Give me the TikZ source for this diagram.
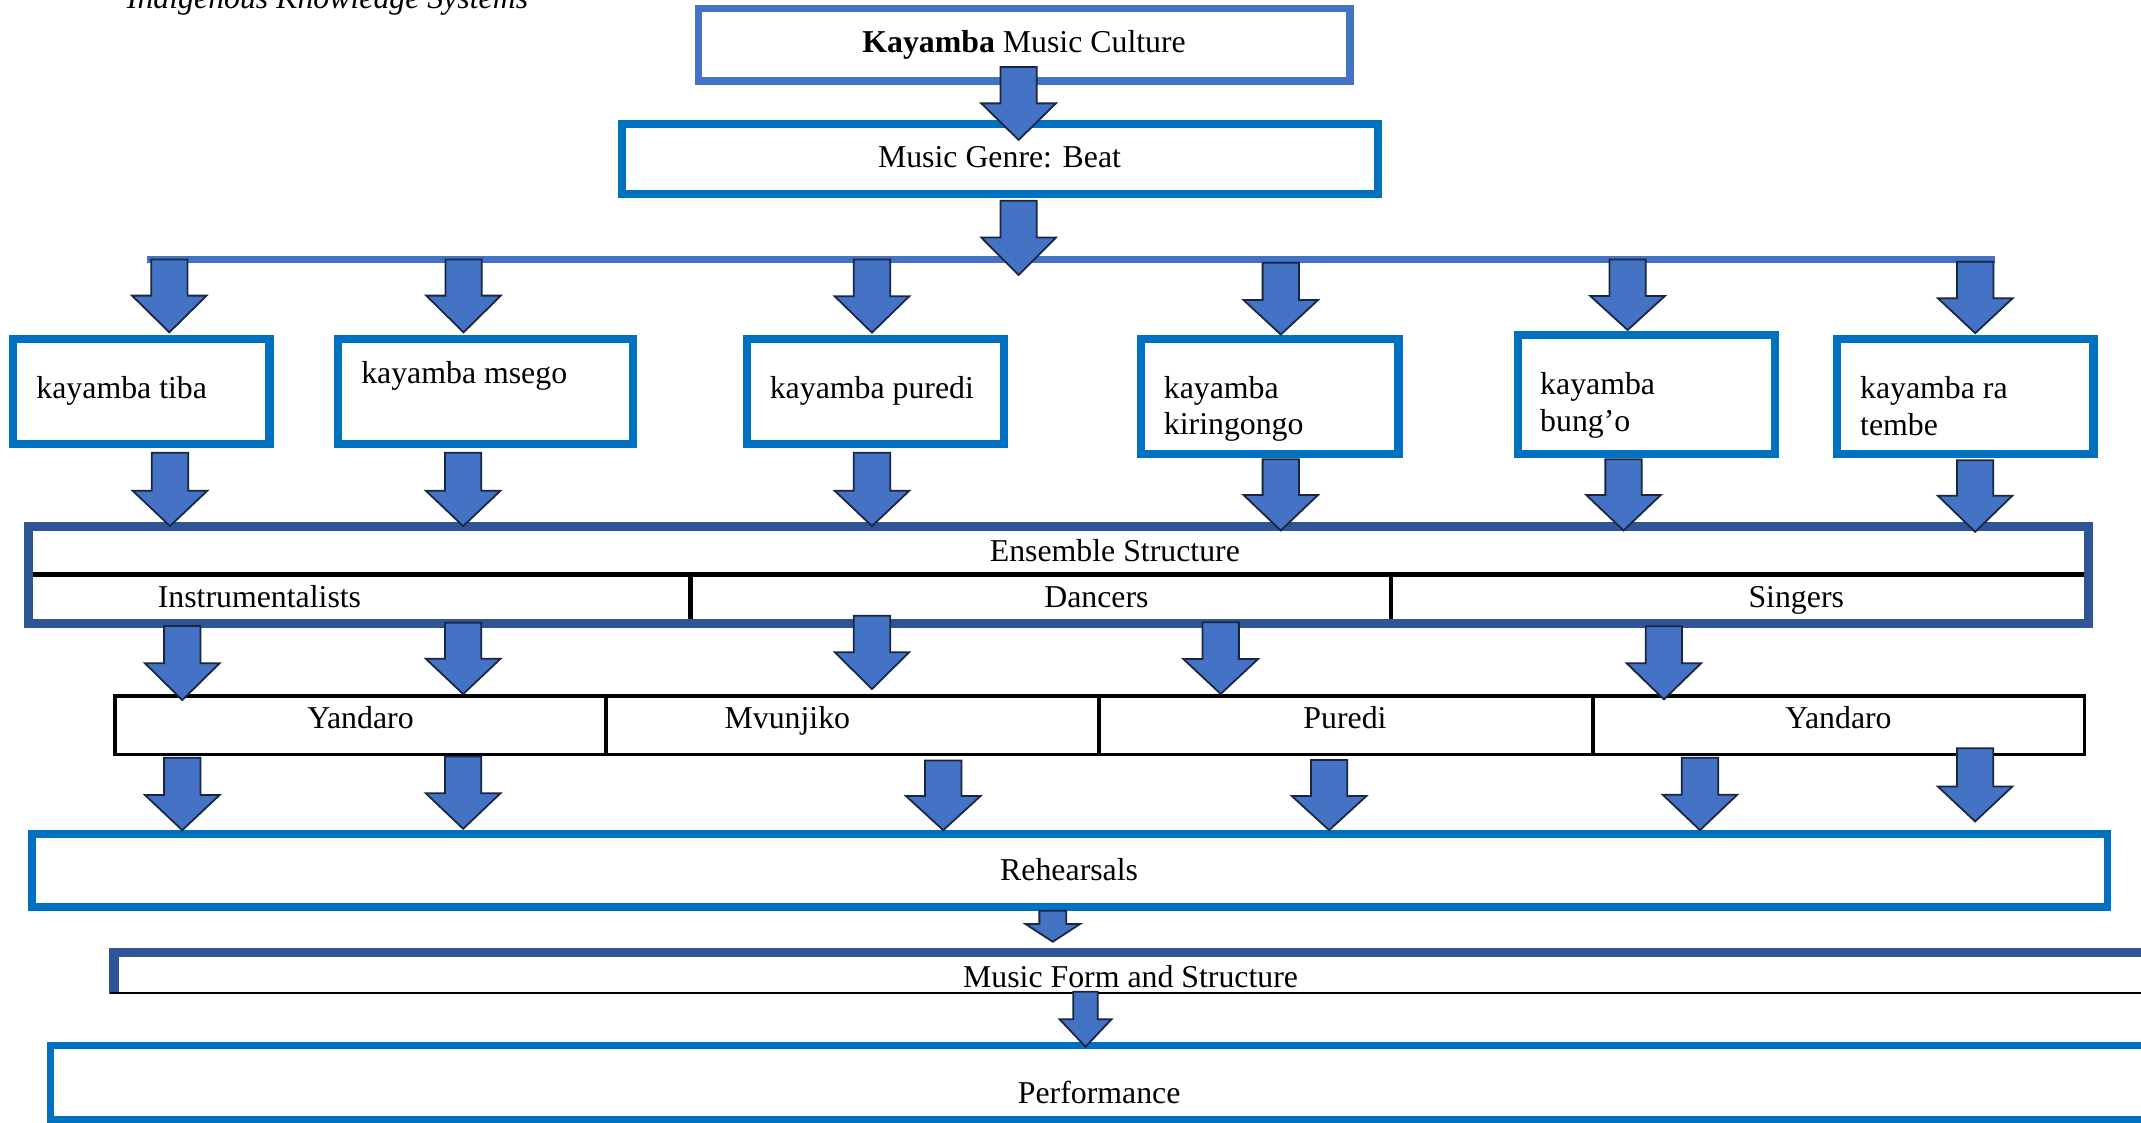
\documentclass[tikz,border=0pt]{standalone}
\usepackage{fontspec}
\setmainfont{Liberation Serif}
\definecolor{cA}{HTML}{4472C4}
\definecolor{cB}{HTML}{0070C0}
\definecolor{cC}{HTML}{2F5597}
\definecolor{cL}{HTML}{1A2640}
% block arrow: x, top, base of head, tip, half shaft, half head
\newcommand\barr[6]{%
  \draw[arr] ({#1-#5},#2) -- ({#1+#5},#2) -- ({#1+#5},#3) -- ({#1+#6},#3) -- (#1,#4) -- ({#1-#6},#3) -- ({#1-#5},#3) -- cycle;}
\newcommand\barrS[4]{\barr{#1}{#2}{#3}{#4}{13.3}{27.3}}
\begin{document}
\begin{tikzpicture}[x=1pt,y=-1pt,
  every node/.style={font=\fontsize{23.3}{28}\selectfont, inner sep=0pt, outer sep=0pt},
  boxA/.style={draw=cA, line width=5.5pt, rectangle},
  boxB/.style={draw=cB, line width=5.6pt, rectangle},
  kbox/.style={draw=cB, line width=6pt, rectangle},
  ebox/.style={draw=cC, line width=6.5pt, rectangle},
  rowbox/.style={draw=black, line width=2.8pt, rectangle},
  arr/.style={fill=cA, draw=cL, line width=1.3pt, line join=miter},
  txt/.style={anchor=base, yshift=-1.5pt},
  ltxt/.style={anchor=base west, yshift=-1.5pt}]
\useasboundingbox (0,0) rectangle (1568,822);
\fill[white] (0,0) rectangle (1568,822);

% header (cut off at the top edge, as in the reference)
\node[ltxt, font=\fontsize{23.3}{28}\selectfont\itshape] (hdr) at (93,4.5) {Indigenous Knowledge Systems};

% top boxes
\node[boxA, minimum width=477pt, minimum height=53.3pt] (kmc) at (750,32.85) {};
\node[txt] (kmct) at (750,37.1) {\textbf{Kayamba} Music Culture};
\node[boxB, minimum width=553.5pt, minimum height=51pt] (mg) at (732.25,116.5) {};
\node[txt] (mgt) at (732,121.4) {Music Genre: Beat};

% distribution bar
\coordinate (barL) at (108,190);
\coordinate (barR) at (1461,190);
\draw[cA, line width=5pt] (barL) -- (barR);

% kayamba boxes
\node[kbox, minimum width=187.6pt, minimum height=77pt] (ka) at (103.6,286.5) {};
\node[kbox, minimum width=215.9pt, minimum height=77pt] (kb) at (355.65,286.5) {};
\node[kbox, minimum width=188.7pt, minimum height=77pt] (kc) at (641.15,286.5) {};
\node[kbox, minimum width=188.6pt, minimum height=84.2pt] (kd) at (929.9,290.1) {};
\node[kbox, minimum width=188pt, minimum height=87pt] (ke) at (1205.7,288.7) {};
\node[kbox, minimum width=187.7pt, minimum height=84.2pt] (kf) at (1439.35,290.1) {};
\node[ltxt] (kat) at (26.7,290.5) {kayamba tiba};
\node[ltxt] (kbt) at (264.6,279.5) {kayamba msego};
\node[ltxt] (kct) at (563.8,290.5) {kayamba puredi};
\node[ltxt] (kdt1) at (852.4,290.5) {kayamba};
\node[ltxt] (kdt2) at (852.4,317) {kiringongo};
\node[ltxt] (ket1) at (1128,287.6) {kayamba};
\node[ltxt] (ket2) at (1128,314.4) {bung’o};
\node[ltxt] (kft1) at (1362.3,290.5) {kayamba ra};
\node[ltxt] (kft2) at (1362.3,317.4) {tembe};

% ensemble structure
\node[ebox, minimum width=1508.5pt, minimum height=71pt] (ens) at (775.25,421) {};
\coordinate (esL) at (24.5,420.5);
\coordinate (esR) at (1526,420.5);
\draw[black, line width=3.6pt] (esL) -- (esR);
\draw[black, line width=3pt] (505.7,420.5) -- (505.7,453.2);
\draw[black, line width=3pt] (1018.5,420.5) -- (1018.5,453.2);
\node[txt] (enst) at (816.5,409.6) {Ensemble Structure};
\node[ltxt] (inst) at (115.6,443.6) {Instrumentalists};
\node[txt] (danc) at (803,443.6) {Dancers};
\node[txt] (sing) at (1315.5,443.6) {Singers};

% dance row
\node[rowbox, minimum width=1442.6pt, minimum height=42.5pt] (row) at (805.3,531.25) {};
\draw[black, line width=2.8pt] (443.7,510) -- (443.7,552.5);
\draw[black, line width=2.8pt] (804.6,510) -- (804.6,552.5);
\draw[black, line width=2.8pt] (1166.6,510) -- (1166.6,552.5);
\node[txt] (y1) at (264,531.7) {Yandaro};
\node[txt] (mv) at (576.6,531.7) {Mvunjiko};
\node[txt] (pu) at (985,531.7) {Puredi};
\node[txt] (y2) at (1346.4,531.7) {Yandaro};

% rehearsals
\node[boxB, minimum width=1520pt, minimum height=53.4pt] (reh) at (783.5,637.7) {};
\node[txt] (reht) at (783,643) {Rehearsals};

% music form and structure (open box)
\node[minimum width=1500pt, minimum height=30pt] (mfs) at (832,712.5) {};
\draw[cC, line width=6pt] (80.2,697.6) -- (1580,697.6);
\draw[cC, line width=6.7pt] (83.5,694.6) -- (83.5,728.2);
\draw[black, line width=1.5pt] (80.2,727.5) -- (1580,727.5);
\node[txt] (mfst) at (828,721.4) {Music Form and Structure};

% performance
\draw[cB, line width=5.4pt] (1600,765.6) -- (37,765.6) -- (37,820) -- (1600,820);
\node[minimum width=1500pt, minimum height=50pt] (perf) at (805,793) {};
\node[txt] (perft) at (805,806.8) {Performance};

% arrows
\barrS{746}{49}{75.7}{102.5}
\barrS{746}{147}{174}{201.4}

\barrS{124}{190}{216.5}{243.4}
\barrS{339.5}{190}{216.5}{243.4}
\barrS{638.6}{190}{217}{243.6}
\barrS{938}{192.4}{219.7}{245}
\barrS{1192}{190}{216.8}{241.7}
\barrS{1446.6}{191.7}{218.5}{244}

\barrS{124.5}{331.5}{359.4}{385.3}
\barrS{339.2}{331.5}{359.4}{385.3}
\barrS{638.6}{331.5}{359.4}{385.3}
\barrS{938}{336.4}{362.5}{388.5}
\barrS{1189}{336.4}{362.5}{388.5}
\barrS{1446.5}{337}{363}{389.5}

\barrS{133.5}{458.5}{485.8}{512.7}
\barrS{339.2}{456}{482.5}{508.3}
\barrS{638.6}{451}{477.6}{504.6}
\barrS{894}{455.7}{482.7}{508.2}
\barrS{1218.6}{458.7}{485.7}{512.2}

\barrS{133.5}{555}{582.3}{608}
\barrS{339.2}{554}{581}{607}
\barrS{690.8}{557}{583}{608}
\barrS{973.4}{556.6}{583}{608}
\barrS{1245}{555}{582}{608}
\barrS{1446.5}{548}{576}{601.6}

\barr{771}{667}{676.7}{689.7}{9.8}{20}
\barr{795}{726.3}{746.5}{766.6}{9}{19}
\end{tikzpicture}
\end{document}
